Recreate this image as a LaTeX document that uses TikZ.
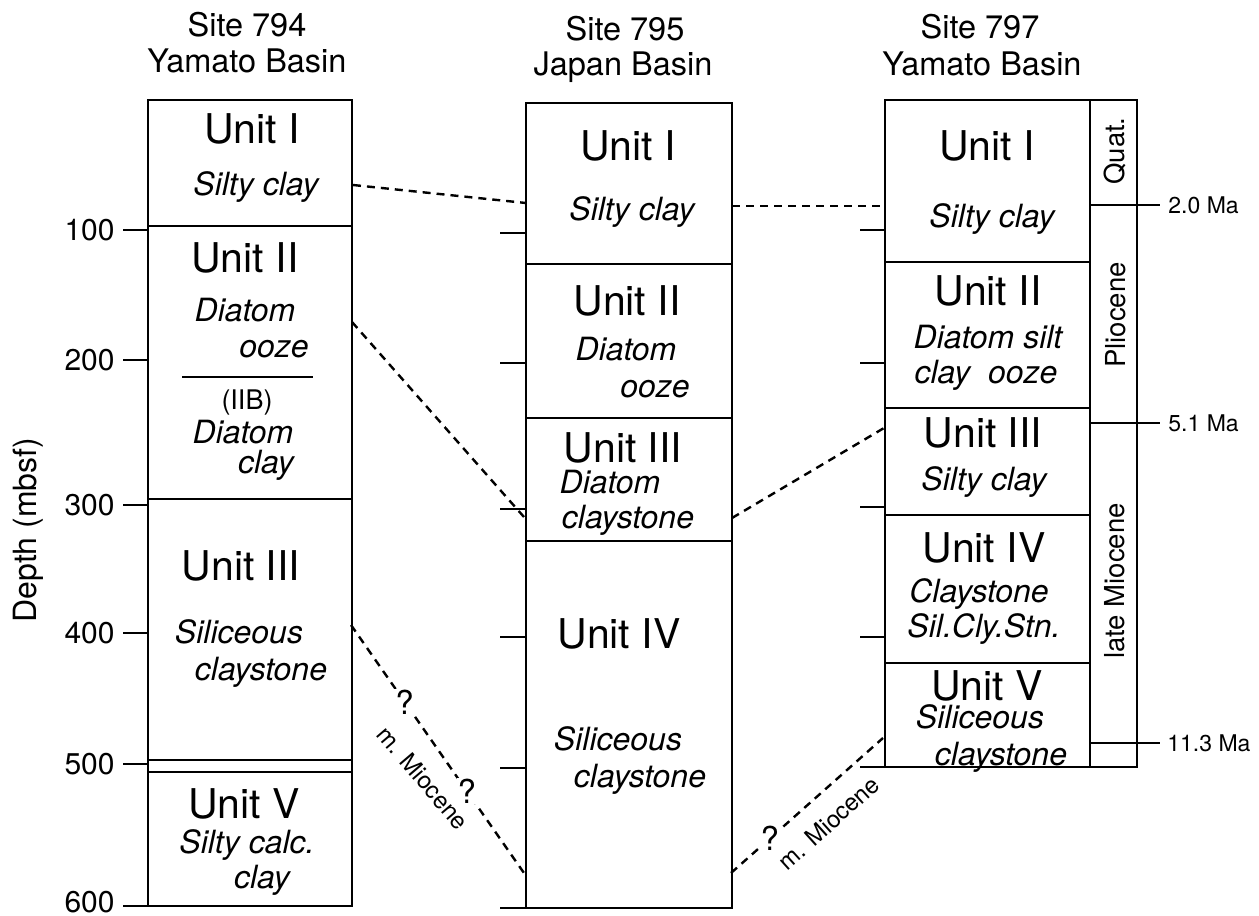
\documentclass[tikz,border=0pt]{standalone}
\usepackage{fontspec}
\setmainfont{TeX Gyre Heros}
\tikzset{
  col/.style={line width=1pt},
  thinline/.style={line width=0.6pt},
  dashlink/.style={line width=1.2pt, dash pattern=on 4pt off 3pt},
  unitlbl/.style={font=\fontsize{20.5}{22}\selectfont, anchor=base, inner sep=0pt},
  litho/.style={font=\fontsize{16}{18}\selectfont\itshape, anchor=base, inner sep=0pt},
  hdr/.style={font=\fontsize{16.25}{18}\selectfont, anchor=base, inner sep=0pt},
  depthlbl/.style={font=\fontsize{15}{17}\selectfont, anchor=east, inner sep=0pt},
  agelbl/.style={font=\fontsize{13.75}{15}\selectfont, rotate=90, inner sep=0pt},
  malbl/.style={font=\fontsize{11.5}{13}\selectfont, anchor=west, inner sep=0pt},
  miolbl/.style={font=\fontsize{12}{14}\selectfont, inner sep=0pt},
  qmark/.style={font=\fontsize{16.5}{18}\selectfont, fill=white, inner sep=0.5pt},
  small/.style={font=\fontsize{13.5}{15}\selectfont, anchor=base, inner sep=0pt}
}
\begin{document}
\begin{tikzpicture}[x=0.5pt,y=-0.5pt]
\useasboundingbox (0,0) rectangle (1259,916);

% ---------------- Site 794 ----------------
\node[hdr] (h1a) at (247,36) {Site 794};
\node[hdr] (h1b) at (247,72) {Yamato Basin};
\draw[col] (148,100) rectangle (352,906);
\foreach \y in {226,499,760,772} \draw[col] (148,\y) -- (352,\y);
\draw[thinline] (182,377) -- (313,377);
\foreach \y/\t in {230/100,360/200,505/300,633/400,764/500} {
  \draw[col] (123,\y) -- (148,\y);
  \node[depthlbl] (d\t) at (115,\y) {\t};
}
\draw[col] (123,906) -- (148,906);
\node[depthlbl] (d600) at (115,902) {600};
\node[font=\fontsize{16}{18}\selectfont, rotate=90, inner sep=0pt] (depth) at (28,530) {Depth (mbsf)};

\node[unitlbl] (a1) at (252,143) {Unit I};
\node[litho] (a1t) at (256,195) {Silty clay};
\node[unitlbl] (a2) at (245,272) {Unit II};
\node[litho] (a2t) at (245,321) {Diatom};
\node[litho] (a2u) at (274,357) {ooze};
\node[small] (a2b) at (247,409) {(IIB)};
\node[litho] (a2v) at (243,443) {Diatom};
\node[litho] (a2w) at (266,473) {clay};
\node[unitlbl] (a3) at (241,580) {Unit III};
\node[litho] (a3t) at (239,643) {Siliceous};
\node[litho] (a3u) at (261,680) {claystone};
\node[unitlbl] (a5) at (244,818) {Unit V};
\node[litho] (a5t) at (247,853) {Silty calc.};
\node[litho] (a5u) at (262,888) {clay};

% ---------------- Site 795 ----------------
\node[hdr] (h2a) at (625,40) {Site 795};
\node[hdr] (h2b) at (623,75) {Japan Basin};
\draw[col] (526,103) rectangle (732,908);
\foreach \y in {264,418,541} \draw[col] (526,\y) -- (732,\y);
\foreach \y in {233,363,509,637,768,908} \draw[col] (500,\y) -- (526,\y);

\node[unitlbl] (b1) at (628,160) {Unit I};
\node[litho] (b1t) at (632,220) {Silty clay};
\node[unitlbl] (b2) at (627,315) {Unit II};
\node[litho] (b2t) at (626,360) {Diatom};
\node[litho] (b2u) at (655,397) {ooze};
\node[unitlbl] (b3) at (623,462) {Unit III};
\node[litho] (b3t) at (610,493) {Diatom};
\node[litho] (b3u) at (628,528) {claystone};
\node[unitlbl] (b4) at (619,648) {Unit IV};
\node[litho] (b4t) at (618,750) {Siliceous};
\node[litho] (b4u) at (640,787) {claystone};

% ---------------- Site 797 ----------------
\node[hdr] (h3a) at (980,38) {Site 797};
\node[hdr] (h3b) at (982,75) {Yamato Basin};
\draw[col] (885,100) rectangle (1090,767);
\draw[col] (1090,100) rectangle (1137,767);
\foreach \y in {262,408,515,663} \draw[col] (885,\y) -- (1090,\y);
\foreach \y in {230,363,507,637,767} \draw[col] (860,\y) -- (885,\y);
\foreach \y in {205,423,743} \draw[col] (1090,\y) -- (1160,\y);
\node[malbl] (ma1) at (1168,205) {2.0 Ma};
\node[malbl] (ma2) at (1168,423) {5.1 Ma};
\node[malbl] (ma3) at (1167,743) {11.3 Ma};
\node[agelbl] (e1) at (1115,151) {Quat.};
\node[agelbl] (e2) at (1116,315) {Pliocene};
\node[agelbl] (e3) at (1115,581) {late Miocene};

\node[unitlbl] (c1) at (987,160) {Unit I};
\node[litho] (c1t) at (992,227) {Silty clay};
\node[unitlbl] (c2) at (988,305) {Unit II};
\node[litho] (c2t) at (988,348) {Diatom silt};
\node[litho] (c2u) at (986,383) {clay\ \ ooze};
\node[unitlbl] (c3) at (983,447) {Unit III};
\node[litho] (c3t) at (984,490) {Silty clay};
\node[unitlbl] (c4) at (984,562) {Unit IV};
\node[litho] (c4t) at (979,602) {Claystone};
\node[litho] (c4u) at (984,637) {Sil.Cly.Stn.};
\node[unitlbl] (c5) at (987,700) {Unit V};
\node[litho] (c5t) at (980,728) {Siliceous};
\node[litho] (c5u) at (1001,765) {claystone};

% ---------------- correlation lines ----------------
\coordinate (L1) at (353,185); \coordinate (M1) at (526,203);
\coordinate (M2) at (732,206); \coordinate (R2) at (885,206);
\coordinate (L3) at (352,322); \coordinate (M3) at (524,517);
\coordinate (M4) at (732,518); \coordinate (R4) at (884,428);
\coordinate (L5) at (351,625); \coordinate (M5) at (524,873);
\coordinate (M6) at (731,873); \coordinate (R6) at (883,738);
\draw[dashlink] (L1) -- (M1);
\draw[dashlink] (M2) -- (R2);
\draw[dashlink] (L3) -- (M3);
\draw[dashlink] (M4) -- (R4);
\draw[dashlink] (L5) -- node[qmark,pos=0.31] (q1) {?} node[qmark,pos=0.67] (q2) {?} (M5);
\draw[dashlink] (M6) -- node[qmark,pos=0.255] (q3) {?} (R6);
\node[miolbl, rotate=-49.5] (mio1) at (423,778) {m. Miocene};
\node[miolbl, rotate=42] (mio2) at (829,823) {m. Miocene};
\end{tikzpicture}
\end{document}
